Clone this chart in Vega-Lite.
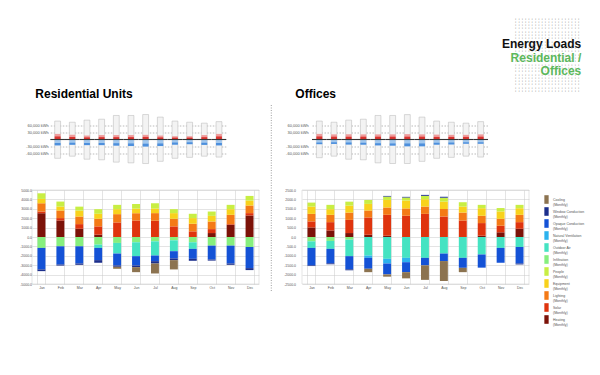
{
  "$schema": "https://vega.github.io/schema/vega-lite/v6.json",
  "padding": {"left": 19, "top": 4, "right": 0, "bottom": 0},
  "config": {"font": "Liberation Sans", "view": {"stroke": null}},
  "datasets": {
    "resTop": [
      {"m": "Jan", "hi": 79000, "lo": -80500, "r": 24000, "r2": 13000, "b": -25000, "b2": -15000},
      {"m": "Feb", "hi": 74000, "lo": -71500, "r": 20000, "r2": 11000, "b": -23000, "b2": -14000},
      {"m": "Mar", "hi": 83000, "lo": -84500, "r": 17000, "r2": 9000, "b": -24000, "b2": -15000},
      {"m": "Apr", "hi": 87000, "lo": -87000, "r": 19000, "r2": 10000, "b": -24000, "b2": -15000},
      {"m": "May", "hi": 103000, "lo": -97000, "r": 19000, "r2": 10000, "b": -26000, "b2": -16000},
      {"m": "Jun", "hi": 103000, "lo": -100000, "r": 19000, "r2": 10000, "b": -28000, "b2": -17000},
      {"m": "Jul", "hi": 107000, "lo": -103000, "r": 20000, "r2": 11000, "b": -30000, "b2": -18000},
      {"m": "Aug", "hi": 96000, "lo": -93500, "r": 17000, "r2": 9000, "b": -28000, "b2": -17000},
      {"m": "Sep", "hi": 79000, "lo": -80500, "r": 14000, "r2": 8000, "b": -22000, "b2": -13000},
      {"m": "Oct", "hi": 74000, "lo": -76600, "r": 14000, "r2": 8000, "b": -20000, "b2": -12000},
      {"m": "Nov", "hi": 70000, "lo": -71500, "r": 19000, "r2": 10000, "b": -23000, "b2": -14000},
      {"m": "Dec", "hi": 76600, "lo": -75400, "r": 24000, "r2": 13000, "b": -25000, "b2": -15000}
    ],
    "offTop": [
      {"m": "Jan", "hi": 79000, "lo": -78000, "r": 24000, "r2": 13000, "b": -20000, "b2": -13000},
      {"m": "Feb", "hi": 74000, "lo": -71400, "r": 22000, "r2": 12000, "b": -19000, "b2": -12000},
      {"m": "Mar", "hi": 83000, "lo": -84500, "r": 22000, "r2": 12000, "b": -21000, "b2": -13000},
      {"m": "Apr", "hi": 87000, "lo": -87000, "r": 22000, "r2": 12000, "b": -22000, "b2": -14000},
      {"m": "May", "hi": 103000, "lo": -100000, "r": 22000, "r2": 12000, "b": -25000, "b2": -16000},
      {"m": "Jun", "hi": 103000, "lo": -102800, "r": 22000, "r2": 12000, "b": -26000, "b2": -17000},
      {"m": "Jul", "hi": 106700, "lo": -102800, "r": 23000, "r2": 12000, "b": -29000, "b2": -17000},
      {"m": "Aug", "hi": 96000, "lo": -93600, "r": 22000, "r2": 12000, "b": -29000, "b2": -17000},
      {"m": "Sep", "hi": 79000, "lo": -80500, "r": 21000, "r2": 11000, "b": -22000, "b2": -14000},
      {"m": "Oct", "hi": 74000, "lo": -76600, "r": 20000, "r2": 11000, "b": -21000, "b2": -13000},
      {"m": "Nov", "hi": 70000, "lo": -71400, "r": 20000, "r2": 11000, "b": -18000, "b2": -12000},
      {"m": "Dec", "hi": 76600, "lo": -75300, "r": 22000, "r2": 12000, "b": -18000, "b2": -12000}
    ],
    "res": [
      {"m": "Jan", "load": "Heating", "v": 2530}, {"m": "Jan", "load": "Solar", "v": 180}, {"m": "Jan", "load": "Lighting", "v": 880}, {"m": "Jan", "load": "Equipment", "v": 460}, {"m": "Jan", "load": "People", "v": 600}, {"m": "Jan", "load": "Infiltration", "v": -1160}, {"m": "Jan", "load": "Opaque Conduction", "v": -2290}, {"m": "Jan", "load": "Window Conduction", "v": -180},
      {"m": "Feb", "load": "Heating", "v": 1760}, {"m": "Feb", "load": "Solar", "v": 250}, {"m": "Feb", "load": "Lighting", "v": 810}, {"m": "Feb", "load": "Equipment", "v": 420}, {"m": "Feb", "load": "People", "v": 530}, {"m": "Feb", "load": "Infiltration", "v": -990}, {"m": "Feb", "load": "Opaque Conduction", "v": -1940}, {"m": "Feb", "load": "Window Conduction", "v": -110},
      {"m": "Mar", "load": "Heating", "v": 880}, {"m": "Mar", "load": "Solar", "v": 490}, {"m": "Mar", "load": "Lighting", "v": 810}, {"m": "Mar", "load": "Equipment", "v": 630}, {"m": "Mar", "load": "People", "v": 420}, {"m": "Mar", "load": "Infiltration", "v": -990}, {"m": "Mar", "load": "Opaque Conduction", "v": -1830}, {"m": "Mar", "load": "Window Conduction", "v": -140},
      {"m": "Apr", "load": "Heating", "v": 250}, {"m": "Apr", "load": "Solar", "v": 880}, {"m": "Apr", "load": "Lighting", "v": 810}, {"m": "Apr", "load": "Equipment", "v": 530}, {"m": "Apr", "load": "People", "v": 490}, {"m": "Apr", "load": "Infiltration", "v": -810}, {"m": "Apr", "load": "Outdoor Air", "v": -350}, {"m": "Apr", "load": "Opaque Conduction", "v": -1300}, {"m": "Apr", "load": "Window Conduction", "v": -280},
      {"m": "May", "load": "Solar", "v": 1550}, {"m": "May", "load": "Lighting", "v": 880}, {"m": "May", "load": "Equipment", "v": 530}, {"m": "May", "load": "People", "v": 460}, {"m": "May", "load": "Infiltration", "v": -630}, {"m": "May", "load": "Outdoor Air", "v": -1130}, {"m": "May", "load": "Opaque Conduction", "v": -1270}, {"m": "May", "load": "Window Conduction", "v": -140}, {"m": "May", "load": "Cooling", "v": -210},
      {"m": "Jun", "load": "Solar", "v": 1760}, {"m": "Jun", "load": "Lighting", "v": 770}, {"m": "Jun", "load": "Equipment", "v": 490}, {"m": "Jun", "load": "People", "v": 490}, {"m": "Jun", "load": "Infiltration", "v": -560}, {"m": "Jun", "load": "Outdoor Air", "v": -1480}, {"m": "Jun", "load": "Opaque Conduction", "v": -990}, {"m": "Jun", "load": "Window Conduction", "v": -180}, {"m": "Jun", "load": "Cooling", "v": -530},
      {"m": "Jul", "load": "Solar", "v": 1730}, {"m": "Jul", "load": "Lighting", "v": 810}, {"m": "Jul", "load": "Equipment", "v": 490}, {"m": "Jul", "load": "People", "v": 560}, {"m": "Jul", "load": "Infiltration", "v": -460}, {"m": "Jul", "load": "Outdoor Air", "v": -1510}, {"m": "Jul", "load": "Opaque Conduction", "v": -600}, {"m": "Jul", "load": "Window Conduction", "v": -250}, {"m": "Jul", "load": "Cooling", "v": -1060},
      {"m": "Aug", "load": "Solar", "v": 1130}, {"m": "Aug", "load": "Lighting", "v": 810}, {"m": "Aug", "load": "Equipment", "v": 600}, {"m": "Aug", "load": "People", "v": 420}, {"m": "Aug", "load": "Infiltration", "v": -350}, {"m": "Aug", "load": "Outdoor Air", "v": -1160}, {"m": "Aug", "load": "Opaque Conduction", "v": -770}, {"m": "Aug", "load": "Window Conduction", "v": -180}, {"m": "Aug", "load": "Cooling", "v": -990},
      {"m": "Sep", "load": "Solar", "v": 600}, {"m": "Sep", "load": "Lighting", "v": 810}, {"m": "Sep", "load": "Equipment", "v": 600}, {"m": "Sep", "load": "People", "v": 460}, {"m": "Sep", "load": "Infiltration", "v": -560}, {"m": "Sep", "load": "Outdoor Air", "v": -700}, {"m": "Sep", "load": "Opaque Conduction", "v": -1060}, {"m": "Sep", "load": "Window Conduction", "v": -210},
      {"m": "Oct", "load": "Heating", "v": 420}, {"m": "Oct", "load": "Solar", "v": 420}, {"m": "Oct", "load": "Lighting", "v": 810}, {"m": "Oct", "load": "Equipment", "v": 600}, {"m": "Oct", "load": "People", "v": 460}, {"m": "Oct", "load": "Infiltration", "v": -920}, {"m": "Oct", "load": "Opaque Conduction", "v": -1480}, {"m": "Oct", "load": "Window Conduction", "v": -110},
      {"m": "Nov", "load": "Heating", "v": 1300}, {"m": "Nov", "load": "Solar", "v": 70}, {"m": "Nov", "load": "Lighting", "v": 990}, {"m": "Nov", "load": "Equipment", "v": 600}, {"m": "Nov", "load": "People", "v": 460}, {"m": "Nov", "load": "Infiltration", "v": -920}, {"m": "Nov", "load": "Opaque Conduction", "v": -1900}, {"m": "Nov", "load": "Window Conduction", "v": -140},
      {"m": "Dec", "load": "Heating", "v": 2290}, {"m": "Dec", "load": "Solar", "v": 250}, {"m": "Dec", "load": "Lighting", "v": 810}, {"m": "Dec", "load": "Equipment", "v": 530}, {"m": "Dec", "load": "People", "v": 490}, {"m": "Dec", "load": "Infiltration", "v": -1060}, {"m": "Dec", "load": "Opaque Conduction", "v": -2250}, {"m": "Dec", "load": "Window Conduction", "v": -210}
    ],
    "off": [
      {"m": "Jan", "load": "Heating", "v": 510}, {"m": "Jan", "load": "Solar", "v": 320}, {"m": "Jan", "load": "Lighting", "v": 400}, {"m": "Jan", "load": "Equipment", "v": 390}, {"m": "Jan", "load": "People", "v": 210}, {"m": "Jan", "load": "Infiltration", "v": -230}, {"m": "Jan", "load": "Outdoor Air", "v": -350}, {"m": "Jan", "load": "Opaque Conduction", "v": -930}, {"m": "Jan", "load": "Window Conduction", "v": -35},
      {"m": "Feb", "load": "Heating", "v": 350}, {"m": "Feb", "load": "Solar", "v": 440}, {"m": "Feb", "load": "Lighting", "v": 390}, {"m": "Feb", "load": "Equipment", "v": 300}, {"m": "Feb", "load": "People", "v": 230}, {"m": "Feb", "load": "Infiltration", "v": -210}, {"m": "Feb", "load": "Outdoor Air", "v": -420}, {"m": "Feb", "load": "Opaque Conduction", "v": -770}, {"m": "Feb", "load": "Window Conduction", "v": -50},
      {"m": "Mar", "load": "Heating", "v": 210}, {"m": "Mar", "load": "Solar", "v": 700}, {"m": "Mar", "load": "Lighting", "v": 390}, {"m": "Mar", "load": "Equipment", "v": 370}, {"m": "Mar", "load": "People", "v": 210}, {"m": "Mar", "load": "Infiltration", "v": -140}, {"m": "Mar", "load": "Outdoor Air", "v": -880}, {"m": "Mar", "load": "Opaque Conduction", "v": -700}, {"m": "Mar", "load": "Window Conduction", "v": -50},
      {"m": "Apr", "load": "Heating", "v": 120}, {"m": "Apr", "load": "Solar", "v": 920}, {"m": "Apr", "load": "Lighting", "v": 370}, {"m": "Apr", "load": "Equipment", "v": 350}, {"m": "Apr", "load": "People", "v": 210}, {"m": "Apr", "load": "Outdoor Air", "v": -990}, {"m": "Apr", "load": "Natural Ventilation", "v": -120}, {"m": "Apr", "load": "Opaque Conduction", "v": -580}, {"m": "Apr", "load": "Cooling", "v": -180},
      {"m": "May", "load": "Heating", "v": 70}, {"m": "May", "load": "Solar", "v": 1110}, {"m": "May", "load": "Lighting", "v": 390}, {"m": "May", "load": "Equipment", "v": 400}, {"m": "May", "load": "People", "v": 180}, {"m": "May", "load": "Window Conduction", "v": 35}, {"m": "May", "load": "Outdoor Air", "v": -1160}, {"m": "May", "load": "Natural Ventilation", "v": -250}, {"m": "May", "load": "Opaque Conduction", "v": -580}, {"m": "May", "load": "Cooling", "v": -120},
      {"m": "Jun", "load": "Solar", "v": 1130}, {"m": "Jun", "load": "Lighting", "v": 390}, {"m": "Jun", "load": "Equipment", "v": 420}, {"m": "Jun", "load": "People", "v": 160}, {"m": "Jun", "load": "Window Conduction", "v": 35}, {"m": "Jun", "load": "Outdoor Air", "v": -1110}, {"m": "Jun", "load": "Natural Ventilation", "v": -230}, {"m": "Jun", "load": "Opaque Conduction", "v": -530}, {"m": "Jun", "load": "Cooling", "v": -330},
      {"m": "Jul", "load": "Solar", "v": 1230}, {"m": "Jul", "load": "Lighting", "v": 390}, {"m": "Jul", "load": "Equipment", "v": 390}, {"m": "Jul", "load": "People", "v": 180}, {"m": "Jul", "load": "Window Conduction", "v": 50}, {"m": "Jul", "load": "Outdoor Air", "v": -1110}, {"m": "Jul", "load": "Opaque Conduction", "v": -400}, {"m": "Jul", "load": "Cooling", "v": -770},
      {"m": "Aug", "load": "Solar", "v": 1090}, {"m": "Aug", "load": "Lighting", "v": 400}, {"m": "Aug", "load": "Equipment", "v": 390}, {"m": "Aug", "load": "People", "v": 210}, {"m": "Aug", "load": "Window Conduction", "v": 50}, {"m": "Aug", "load": "Outdoor Air", "v": -880}, {"m": "Aug", "load": "Opaque Conduction", "v": -400}, {"m": "Aug", "load": "Cooling", "v": -1060},
      {"m": "Sep", "load": "Solar", "v": 880}, {"m": "Sep", "load": "Lighting", "v": 420}, {"m": "Sep", "load": "Equipment", "v": 320}, {"m": "Sep", "load": "People", "v": 230}, {"m": "Sep", "load": "Outdoor Air", "v": -1110}, {"m": "Sep", "load": "Opaque Conduction", "v": -530}, {"m": "Sep", "load": "Cooling", "v": -230},
      {"m": "Oct", "load": "Heating", "v": 70}, {"m": "Oct", "load": "Solar", "v": 670}, {"m": "Oct", "load": "Lighting", "v": 390}, {"m": "Oct", "load": "Equipment", "v": 400}, {"m": "Oct", "load": "People", "v": 180}, {"m": "Oct", "load": "Outdoor Air", "v": -930}, {"m": "Oct", "load": "Opaque Conduction", "v": -700},
      {"m": "Nov", "load": "Heating", "v": 250}, {"m": "Nov", "load": "Solar", "v": 350}, {"m": "Nov", "load": "Lighting", "v": 370}, {"m": "Nov", "load": "Equipment", "v": 390}, {"m": "Nov", "load": "People", "v": 180}, {"m": "Nov", "load": "Outdoor Air", "v": -580}, {"m": "Nov", "load": "Opaque Conduction", "v": -790},
      {"m": "Dec", "load": "Heating", "v": 440}, {"m": "Dec", "load": "Solar", "v": 350}, {"m": "Dec", "load": "Lighting", "v": 390}, {"m": "Dec", "load": "Equipment", "v": 350}, {"m": "Dec", "load": "People", "v": 180}, {"m": "Dec", "load": "Outdoor Air", "v": -530}, {"m": "Dec", "load": "Opaque Conduction", "v": -880}, {"m": "Dec", "load": "Window Conduction", "v": -50}
    ]
  },
  "concat": [
    {"width": 1, "height": 1, "data": {"values": [{}]}, "mark": {"type": "text", "text": ""}, "encoding": {}},
    {"width": 1, "height": 1, "data": {"values": [{}]}, "mark": {"type": "text", "text": ""}, "encoding": {}},
    {
      "width": 281.3,
      "height": 79,
      "data": {"values": [{}]},
      "layer": [
        {"mark": {"type": "text", "text": ["····················","····················","····················","····················","····················","····················","····················","····················","····················","····················","····················","····················","····················","····················","····················","····················","····················","····················","····················","····················","····················","····················","····················"], "font": "DejaVu Sans Mono", "fontSize": 5.5, "lineHeight": 3.3, "color": "#777", "align": "right", "baseline": "middle", "x": "width", "dx": -3, "dy": -31}, "encoding": {}},
        {"mark": {"type": "text", "text": ["Energy Loads", "", ""], "fontSize": 12, "fontWeight": "bold", "lineHeight": 13.5, "color": "#111", "align": "right", "baseline": "middle", "x": "width", "dx": -2, "dy": -5.5}, "encoding": {}},
        {"mark": {"type": "text", "text": ["", "Residential /", "Offices"], "fontSize": 12, "fontWeight": "bold", "lineHeight": 13.5, "color": "#5cb85c", "align": "right", "baseline": "middle", "x": "width", "dx": -2, "dy": -5.5}, "encoding": {}}
      ]
    },
    {
      "title": {"text": "Residential Units", "anchor": "start", "frame": "group", "fontSize": 12, "fontWeight": "bold", "offset": 11, "dx": 3.3, "color": "#000"},
      "width": 194.3,
      "height": 56,
      "data": {"name": "resTop"},
      "encoding": {"x": {"field": "m", "type": "nominal", "sort": null, "axis": null, "scale": {"range": [18.3, 194.3], "paddingInner": 0.6, "paddingOuter": 0.3}}},
      "layer": [
        {"mark": {"type": "bar", "fill": "#f3f3f3", "stroke": "#b5b5b5", "strokeWidth": 0.5},
         "encoding": {
           "y": {"field": "hi", "type": "quantitative", "scale": {"domain": [-110000, 110000]},
             "axis": {"title": null, "values": [-60000, -30000, 30000, 60000], "labelOverlap": false, "labelExpr": "replace(format(datum.value, ','), '\u2212', '-') + ' kWh'", "labelFontSize": 4, "labelColor": "#555", "labelPadding": -16.3, "domain": false, "ticks": false, "grid": true, "gridDash": [1.5, 1.5], "gridColor": "#777", "gridWidth": 0.5}},
           "y2": {"field": "lo"}}},
        {"mark": {"type": "bar", "color": "#ef9c9c"}, "encoding": {"y": {"field": "r", "type": "quantitative", "axis": {"title": null, "values": [-60000, -30000, 30000, 60000], "labelOverlap": false, "labelExpr": "replace(format(datum.value, ','), '\u2212', '-') + ' kWh'", "labelFontSize": 4, "labelColor": "#555", "labelPadding": -16.3, "domain": false, "ticks": false, "grid": true, "gridDash": [1.5, 1.5], "gridColor": "#777", "gridWidth": 0.5}}}},
        {"mark": {"type": "bar", "color": "#da3430"}, "encoding": {"y": {"field": "r2", "type": "quantitative", "axis": {"title": null, "values": [-60000, -30000, 30000, 60000], "labelOverlap": false, "labelExpr": "replace(format(datum.value, ','), '\u2212', '-') + ' kWh'", "labelFontSize": 4, "labelColor": "#555", "labelPadding": -16.3, "domain": false, "ticks": false, "grid": true, "gridDash": [1.5, 1.5], "gridColor": "#777", "gridWidth": 0.5}}}},
        {"mark": {"type": "bar", "color": "#a2c8ef"}, "encoding": {"y": {"field": "b", "type": "quantitative", "axis": {"title": null, "values": [-60000, -30000, 30000, 60000], "labelOverlap": false, "labelExpr": "replace(format(datum.value, ','), '\u2212', '-') + ' kWh'", "labelFontSize": 4, "labelColor": "#555", "labelPadding": -16.3, "domain": false, "ticks": false, "grid": true, "gridDash": [1.5, 1.5], "gridColor": "#777", "gridWidth": 0.5}}}},
        {"mark": {"type": "bar", "color": "#4d8fdc"}, "encoding": {"y": {"field": "b2", "type": "quantitative", "axis": {"title": null, "values": [-60000, -30000, 30000, 60000], "labelOverlap": false, "labelExpr": "replace(format(datum.value, ','), '\u2212', '-') + ' kWh'", "labelFontSize": 4, "labelColor": "#555", "labelPadding": -16.3, "domain": false, "ticks": false, "grid": true, "gridDash": [1.5, 1.5], "gridColor": "#777", "gridWidth": 0.5}}, "y2": {"field": "b"}}},
        {"mark": {"type": "bar", "color": "#333", "width": {"band": 2.5}}, "encoding": {"y": {"datum": 2400, "type": "quantitative", "axis": {"title": null, "values": [-60000, -30000, 30000, 60000], "labelOverlap": false, "labelExpr": "replace(format(datum.value, ','), '\u2212', '-') + ' kWh'", "labelFontSize": 4, "labelColor": "#555", "labelPadding": -16.3, "domain": false, "ticks": false, "grid": true, "gridDash": [1.5, 1.5], "gridColor": "#777", "gridWidth": 0.5}}, "y2": {"datum": -2400}}}
      ]
    },
    {
      "width": 43,
      "height": 56,
      "data": {"values": [{}]},
      "mark": {"type": "rule", "color": "#888", "strokeWidth": 0.8, "strokeDash": [1, 1.5]},
      "encoding": {
        "x": {"datum": 0.286, "type": "quantitative", "scale": {"domain": [0, 1], "nice": false}, "axis": null},
        "y": {"datum": 1.116, "type": "quantitative", "scale": {"domain": [0, 1], "nice": false}, "axis": null},
        "y2": {"datum": -2.223}
      }
    },
    {
      "title": {"text": "Offices", "anchor": "start", "frame": "group", "fontSize": 12, "fontWeight": "bold", "offset": 11, "dx": -6.7, "color": "#000"},
      "width": 186,
      "height": 56,
      "data": {"name": "offTop"},
      "encoding": {"x": {"field": "m", "type": "nominal", "sort": null, "axis": null, "scale": {"range": [10, 186], "paddingInner": 0.6, "paddingOuter": 0.3}}},
      "layer": [
        {"mark": {"type": "bar", "fill": "#f3f3f3", "stroke": "#b5b5b5", "strokeWidth": 0.5},
         "encoding": {
           "y": {"field": "hi", "type": "quantitative", "scale": {"domain": [-110000, 110000]},
             "axis": {"title": null, "values": [-60000, -30000, 30000, 60000], "labelOverlap": false, "labelExpr": "replace(format(datum.value, ','), '\u2212', '-') + ' kWh'", "labelFontSize": 4, "labelColor": "#555", "labelPadding": -6.3, "domain": false, "ticks": false, "grid": true, "gridDash": [1.5, 1.5], "gridColor": "#777", "gridWidth": 0.5}},
           "y2": {"field": "lo"}}},
        {"mark": {"type": "bar", "color": "#ef9c9c"}, "encoding": {"y": {"field": "r", "type": "quantitative", "axis": {"title": null, "values": [-60000, -30000, 30000, 60000], "labelOverlap": false, "labelExpr": "replace(format(datum.value, ','), '\u2212', '-') + ' kWh'", "labelFontSize": 4, "labelColor": "#555", "labelPadding": -6.3, "domain": false, "ticks": false, "grid": true, "gridDash": [1.5, 1.5], "gridColor": "#777", "gridWidth": 0.5}}}},
        {"mark": {"type": "bar", "color": "#da3430"}, "encoding": {"y": {"field": "r2", "type": "quantitative", "axis": {"title": null, "values": [-60000, -30000, 30000, 60000], "labelOverlap": false, "labelExpr": "replace(format(datum.value, ','), '\u2212', '-') + ' kWh'", "labelFontSize": 4, "labelColor": "#555", "labelPadding": -6.3, "domain": false, "ticks": false, "grid": true, "gridDash": [1.5, 1.5], "gridColor": "#777", "gridWidth": 0.5}}}},
        {"mark": {"type": "bar", "color": "#a2c8ef"}, "encoding": {"y": {"field": "b", "type": "quantitative", "axis": {"title": null, "values": [-60000, -30000, 30000, 60000], "labelOverlap": false, "labelExpr": "replace(format(datum.value, ','), '\u2212', '-') + ' kWh'", "labelFontSize": 4, "labelColor": "#555", "labelPadding": -6.3, "domain": false, "ticks": false, "grid": true, "gridDash": [1.5, 1.5], "gridColor": "#777", "gridWidth": 0.5}}}},
        {"mark": {"type": "bar", "color": "#4d8fdc"}, "encoding": {"y": {"field": "b2", "type": "quantitative", "axis": {"title": null, "values": [-60000, -30000, 30000, 60000], "labelOverlap": false, "labelExpr": "replace(format(datum.value, ','), '\u2212', '-') + ' kWh'", "labelFontSize": 4, "labelColor": "#555", "labelPadding": -6.3, "domain": false, "ticks": false, "grid": true, "gridDash": [1.5, 1.5], "gridColor": "#777", "gridWidth": 0.5}}, "y2": {"field": "b"}}},
        {"mark": {"type": "bar", "color": "#333", "width": {"band": 2.5}}, "encoding": {"y": {"datum": 2400, "type": "quantitative", "axis": {"title": null, "values": [-60000, -30000, 30000, 60000], "labelOverlap": false, "labelExpr": "replace(format(datum.value, ','), '\u2212', '-') + ' kWh'", "labelFontSize": 4, "labelColor": "#555", "labelPadding": -6.3, "domain": false, "ticks": false, "grid": true, "gridDash": [1.5, 1.5], "gridColor": "#777", "gridWidth": 0.5}}, "y2": {"datum": -2400}}}
      ]
    },
    {
      "width": 227,
      "height": 94,
      "view": {"stroke": "#c8c8c8", "strokeWidth": 0.5},
      "data": {"name": "res"},
      "transform": [{"calculate": "indexof(['Heating','Solar','Lighting','Equipment','People','Infiltration','Outdoor Air','Natural Ventilation','Opaque Conduction','Window Conduction','Cooling'], datum.load)", "as": "k"}],
      "mark": {"type": "bar"},
      "encoding": {
        "x": {"field": "m", "type": "nominal", "sort": ["Jan","Feb","Mar","Apr","May","Jun","Jul","Aug","Sep","Oct","Nov","Dec"], "scale": {"paddingInner": 0.58, "paddingOuter": 0.29},
          "axis": {"title": null, "labelAngle": 0, "labelFontSize": 3.5, "labelColor": "#555", "labelPadding": 1.5, "ticks": false, "domain": false, "grid": true, "tickBand": "extent", "gridColor": "#c8c8c8", "gridWidth": 0.5}},
        "y": {"field": "v", "type": "quantitative", "stack": "zero", "scale": {"domain": [-5000, 5000]},
          "axis": {"title": null, "values": [-5000, -4000, -3000, -2000, -1000, 0, 1000, 2000, 3000, 4000, 5000], "labelOverlap": false, "labelExpr": "replace(format(datum.value, '.1f'), '\u2212', '-')", "labelFontSize": 3.5, "labelColor": "#555", "labelPadding": 0.5, "domain": false, "ticks": false, "grid": true, "gridColor": "#c8c8c8", "gridWidth": 0.5}},
        "color": {"field": "load", "type": "nominal", "legend": null,
          "scale": {"domain": ["Cooling", "Window Conduction", "Opaque Conduction", "Natural Ventilation", "Outdoor Air", "Infiltration", "People", "Equipment", "Lighting", "Solar", "Heating"],
            "range": ["#8c7350", "#1c2f8c", "#1452d6", "#2cb2ee", "#45e3c2", "#86ef7e", "#c8ee44", "#f8d21c", "#f47a16", "#df340e", "#7c1208"]}},
        "order": {"field": "k", "type": "quantitative"}
      }
    },
    {"width": 1, "height": 1, "data": {"values": [{}]}, "mark": {"type": "text", "text": ""}, "encoding": {}},
    {
      "width": 227,
      "height": 94,
      "view": {"stroke": "#c8c8c8", "strokeWidth": 0.5},
      "data": {"name": "off"},
      "transform": [{"calculate": "indexof(['Heating','Solar','Lighting','Equipment','People','Infiltration','Outdoor Air','Natural Ventilation','Opaque Conduction','Window Conduction','Cooling'], datum.load)", "as": "k"}],
      "mark": {"type": "bar"},
      "encoding": {
        "x": {"field": "m", "type": "nominal", "sort": ["Jan","Feb","Mar","Apr","May","Jun","Jul","Aug","Sep","Oct","Nov","Dec"], "scale": {"paddingInner": 0.58, "paddingOuter": 0.29},
          "axis": {"title": null, "labelAngle": 0, "labelFontSize": 3.5, "labelColor": "#555", "labelPadding": 1.5, "ticks": false, "domain": false, "grid": true, "tickBand": "extent", "gridColor": "#c8c8c8", "gridWidth": 0.5}},
        "y": {"field": "v", "type": "quantitative", "stack": "zero", "scale": {"domain": [-2500, 2500]},
          "axis": {"title": null, "values": [-2500, -2000, -1500, -1000, -500, 0, 500, 1000, 1500, 2000, 2500], "labelOverlap": false, "labelExpr": "replace(format(datum.value, '.1f'), '\u2212', '-')", "labelFontSize": 3.5, "labelColor": "#555", "labelPadding": 6.5, "domain": false, "ticks": false, "grid": true, "gridColor": "#c8c8c8", "gridWidth": 0.5}},
        "color": {"field": "load", "type": "nominal",
          "scale": {"domain": ["Cooling", "Window Conduction", "Opaque Conduction", "Natural Ventilation", "Outdoor Air", "Infiltration", "People", "Equipment", "Lighting", "Solar", "Heating"],
            "range": ["#8c7350", "#1c2f8c", "#1452d6", "#2cb2ee", "#45e3c2", "#86ef7e", "#c8ee44", "#f8d21c", "#f47a16", "#df340e", "#7c1208"]},
          "legend": {"title": null, "orient": "none", "legendX": 240, "legendY": 5, "padding": 0, "symbolType": "M-0.5,-1H0.5V1H-0.5Z", "symbolSize": 74, "symbolStrokeWidth": 0, "rowPadding": 0, "labelFontSize": 3.5, "labelColor": "#555", "labelOffset": 2, "labelExpr": "[datum.label, '(Monthly)']"}},
        "order": {"field": "k", "type": "quantitative"}
      }
    }
  ],
  "columns": 3,
  "bounds": "flush",
  "align": "each",
  "spacing": {"row": 22.5, "column": 0},
  "resolve": {"scale": {"color": "independent", "x": "independent", "y": "independent"}, "legend": {"color": "independent"}}
}
